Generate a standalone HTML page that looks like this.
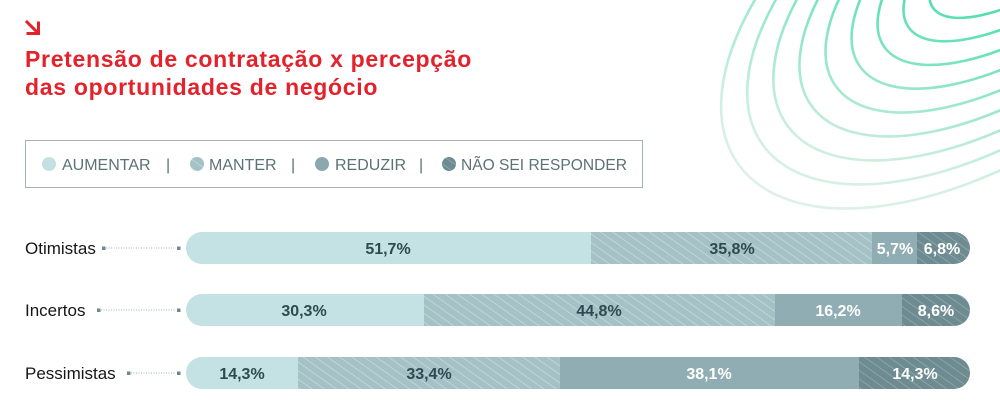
<!DOCTYPE html>
<html>
<head>
<meta charset="utf-8">
<style>
  html,body{margin:0;padding:0;background:#fff;}
  body{width:1000px;height:408px;overflow:hidden;}
  svg{display:block;}
  text{font-family:"Liberation Sans",sans-serif;}
</style>
</head>
<body>
<svg width="1000" height="408" viewBox="0 0 1000 408" xmlns="http://www.w3.org/2000/svg">
  <defs>
    <linearGradient id="ringGrad" gradientUnits="userSpaceOnUse" x1="740" y1="210" x2="990" y2="10">
      <stop offset="0" stop-color="#e6ede8"/>
      <stop offset="0.45" stop-color="#c4ebd9"/>
      <stop offset="1" stop-color="#52dfae"/>
    </linearGradient>
    <pattern id="hatchLight" patternUnits="userSpaceOnUse" width="7" height="7" patternTransform="rotate(-55)">
      <rect width="7" height="7" fill="#a4c1c5"/>
      <line x1="0" y1="0" x2="0" y2="7" stroke="#cbdfe1" stroke-width="1.3"/>
    </pattern>
    <pattern id="hatchDark" patternUnits="userSpaceOnUse" width="7" height="7" patternTransform="rotate(-55)">
      <rect width="7" height="7" fill="#6d8b90"/>
      <line x1="0" y1="0" x2="0" y2="7" stroke="#98b0b4" stroke-width="1.3"/>
    </pattern>
    <clipPath id="c1"><rect x="186" y="232" width="784" height="32" rx="16"/></clipPath>
    <clipPath id="c2"><rect x="186" y="294" width="784" height="32" rx="16"/></clipPath>
    <clipPath id="c3"><rect x="186" y="357" width="784" height="32" rx="16"/></clipPath>
  </defs>

  <!-- decorative rings -->
  <g fill="none" stroke="url(#ringGrad)" stroke-width="2.6">
    <ellipse cx="1000" cy="-20" rx="320" ry="166" transform="rotate(-35 1000 -20)" opacity="0.75"/>
    <ellipse cx="1008" cy="-28" rx="300" ry="152" transform="rotate(-35 1008 -28)" opacity="0.8"/>
    <ellipse cx="1016" cy="-36" rx="280" ry="138" transform="rotate(-35 1016 -36)" opacity="0.85"/>
    <ellipse cx="1024" cy="-44" rx="260" ry="124" transform="rotate(-35 1024 -44)" opacity="0.9"/>
    <ellipse cx="1032" cy="-52" rx="240" ry="110" transform="rotate(-35 1032 -52)" opacity="0.93"/>
    <ellipse cx="1040" cy="-60" rx="220" ry="96" transform="rotate(-35 1040 -60)" opacity="0.96"/>
    <ellipse cx="1048" cy="-68" rx="200" ry="82" transform="rotate(-35 1048 -68)"/>
    <ellipse cx="1056" cy="-76" rx="180" ry="68" transform="rotate(-35 1056 -76)"/>
    <ellipse cx="1064" cy="-84" rx="160" ry="54" transform="rotate(-35 1064 -84)"/>
    <ellipse cx="1072" cy="-92" rx="140" ry="40" transform="rotate(-35 1072 -92)"/>
  </g>

  <!-- arrow -->
  <g stroke="#e3222b" stroke-width="3" fill="none" stroke-linecap="square">
    <line x1="27" y1="22" x2="37" y2="32"/>
    <polyline points="28,33.5 38.5,33.5 38.5,23"/>
  </g>

  <!-- title -->
  <text x="25" y="67" font-size="23" font-weight="bold" fill="#e3222b" letter-spacing="0.7">Pretensão de contratação x percepção</text>
  <text x="25" y="95" font-size="23" font-weight="bold" fill="#e3222b" letter-spacing="0.7">das oportunidades de negócio</text>

  <!-- legend -->
  <rect x="25.5" y="140.5" width="617" height="47" fill="#fff" stroke="#a3b2b5" stroke-width="1"/>
  <g font-size="16" fill="#5b7276">
    <circle cx="49" cy="164" r="7" fill="#c5e0e2"/>
    <text x="62" y="170">AUMENTAR</text>
    <text x="166" y="170">|</text>
    <circle cx="197" cy="164" r="7" fill="url(#hatchLight)"/>
    <text x="209" y="170">MANTER</text>
    <text x="291" y="170">|</text>
    <circle cx="322" cy="164" r="7" fill="#8aa8ad"/>
    <text x="335" y="170">REDUZIR</text>
    <text x="419" y="170">|</text>
    <circle cx="449" cy="164" r="7" fill="url(#hatchDark)"/>
    <text x="461" y="170" textLength="166" lengthAdjust="spacingAndGlyphs">NÃO SEI RESPONDER</text>
  </g>

  <!-- row labels + leaders -->
  <g font-size="17" fill="#161616">
    <text x="25" y="254">Otimistas</text>
    <text x="25" y="316">Incertos</text>
    <text x="25" y="379">Pessimistas</text>
  </g>
  <g stroke="#9db0b3" stroke-width="1" stroke-dasharray="1 1.5">
    <line x1="106" y1="248" x2="176" y2="248"/>
    <line x1="101" y1="310" x2="176" y2="310"/>
    <line x1="131" y1="373" x2="176" y2="373"/>
  </g>
  <g fill="#6e8a8e">
    <rect x="102" y="246.5" width="3.5" height="3.5"/>
    <rect x="177" y="246.5" width="3.5" height="3.5"/>
    <rect x="97" y="308.5" width="3.5" height="3.5"/>
    <rect x="177" y="308.5" width="3.5" height="3.5"/>
    <rect x="127" y="371.5" width="3.5" height="3.5"/>
    <rect x="177" y="371.5" width="3.5" height="3.5"/>
  </g>

  <!-- Row 1: 51.7 / 35.8 / 5.7 / 6.8 -->
  <g clip-path="url(#c1)">
    <rect x="186" y="232" width="406" height="32" fill="#c4e1e3"/>
    <rect x="591" y="232" width="282" height="32" fill="url(#hatchLight)"/>
    <rect x="872" y="232" width="46" height="32" fill="#8fadb2"/>
    <rect x="917" y="232" width="54" height="32" fill="url(#hatchDark)"/>
  </g>
  <!-- Row 2: 30.3 / 44.8 / 16.2 / 8.6 -->
  <g clip-path="url(#c2)">
    <rect x="186" y="294" width="238" height="32" fill="#c4e1e3"/>
    <rect x="424" y="294" width="352" height="32" fill="url(#hatchLight)"/>
    <rect x="775" y="294" width="128" height="32" fill="#8fadb2"/>
    <rect x="902" y="294" width="69" height="32" fill="url(#hatchDark)"/>
  </g>
  <!-- Row 3: 14.3 / 33.4 / 38.1 / 14.3 -->
  <g clip-path="url(#c3)">
    <rect x="186" y="357" width="112" height="32" fill="#c4e1e3"/>
    <rect x="298" y="357" width="263" height="32" fill="url(#hatchLight)"/>
    <rect x="560" y="357" width="300" height="32" fill="#8fadb2"/>
    <rect x="859" y="357" width="112" height="32" fill="url(#hatchDark)"/>
  </g>

  <!-- values -->
  <g font-size="16" font-weight="bold" text-anchor="middle">
    <text x="388" y="254" fill="#2e4a50">51,7%</text>
    <text x="732" y="254" fill="#2e4a50">35,8%</text>
    <text x="895" y="254" fill="#ffffff">5,7%</text>
    <text x="942" y="254" fill="#ffffff">6,8%</text>

    <text x="304" y="316" fill="#2e4a50">30,3%</text>
    <text x="599" y="316" fill="#2e4a50">44,8%</text>
    <text x="838" y="316" fill="#ffffff">16,2%</text>
    <text x="936" y="316" fill="#ffffff">8,6%</text>

    <text x="242" y="379" fill="#2e4a50">14,3%</text>
    <text x="429" y="379" fill="#2e4a50">33,4%</text>
    <text x="709" y="379" fill="#ffffff">38,1%</text>
    <text x="915" y="379" fill="#ffffff">14,3%</text>
  </g>
</svg>
</body>
</html>
